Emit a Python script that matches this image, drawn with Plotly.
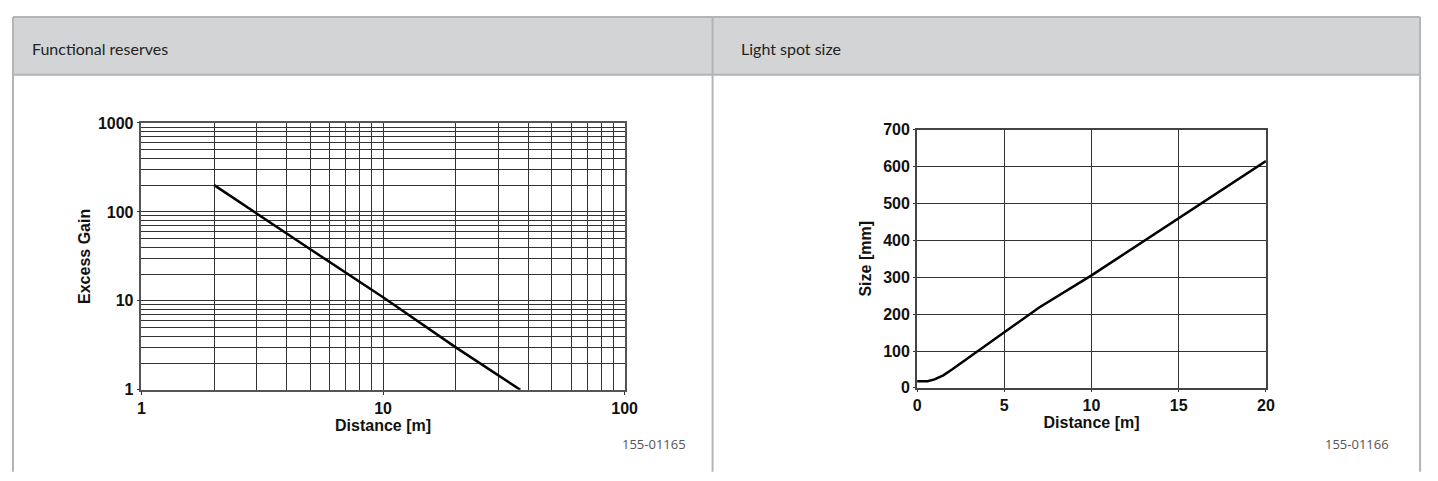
import plotly.graph_objects as go

# Functional reserves (log-log)
gain_dist = [2, 3, 5, 10, 20, 37]
gain_vals = [200, 95, 38, 11, 3, 1]

# Light spot size
spot_dist = [0, 0.6, 1, 1.5, 2, 2.5, 3, 5, 7, 10, 15, 20]
spot_size = [18, 18, 23, 34, 50, 67, 84, 150, 218, 305, 460, 615]

left_title = "Functional reserves"
right_title = "Light spot size"
left_code = "155-01165"
right_code = "155-01166"

# page body keeps an 8px margin, so the figure is sized to fit inside the window
OFF = 8
W, H = 1430, 465


def px(x):
    return (x - OFF) / W


def py(y):
    return 1 - (y - OFF) / H


grid_col = "#333333"
tick_font = dict(family="Liberation Sans, Arial", size=16, color="#111", weight="bold")
title_font = dict(family="Liberation Sans, Arial", size=16, color="#111", weight="bold")

fig = go.Figure()
fig.add_trace(go.Scatter(x=gain_dist, y=gain_vals, mode="lines",
                         line=dict(color="#000", width=2.5), xaxis="x", yaxis="y",
                         showlegend=False, hoverinfo="skip"))
fig.add_trace(go.Scatter(x=spot_dist, y=spot_size, mode="lines",
                         line=dict(color="#000", width=2.5), xaxis="x2", yaxis="y2",
                         showlegend=False, hoverinfo="skip"))

minor_x = [2, 3, 4, 5, 6, 7, 8, 9, 20, 30, 40, 50, 60, 70, 80, 90]
minor_y = minor_x + [200, 300, 400, 500, 600, 700, 800, 900]

fig.update_layout(
    width=W, height=H,
    margin=dict(l=0, r=0, t=0, b=0),
    paper_bgcolor="white", plot_bgcolor="white",
    xaxis=dict(domain=[px(139), px(628)], type="log", range=[0, 2], anchor="y",
               tickvals=[1, 10, 100], ticktext=["1", "10", "100"],
               ticks="outside", ticklen=3, tickcolor="#333",
               showgrid=True, gridcolor=grid_col, gridwidth=1,
               minor=dict(tickvals=minor_x, showgrid=True, gridcolor=grid_col, gridwidth=1, ticks=""),
               showline=True, linecolor="#555", linewidth=1.5, mirror=True,
               tickfont=tick_font, zeroline=False,
               title=dict(text="Distance [m]", font=title_font, standoff=3)),
    yaxis=dict(domain=[py(396), py(119)], type="log", range=[0, 3], anchor="x",
               tickvals=[1, 10, 100, 1000], ticktext=["1", "10", "100", "1000"],
               ticks="outside", ticklen=3, tickcolor="#333",
               showgrid=True, gridcolor=grid_col, gridwidth=1,
               minor=dict(tickvals=minor_y, showgrid=True, gridcolor=grid_col, gridwidth=1, ticks=""),
               showline=True, linecolor="#555", linewidth=1.5, mirror=True,
               tickfont=tick_font, zeroline=False,
               title=dict(text="Excess Gain", font=title_font, standoff=3)),
    xaxis2=dict(domain=[px(924), px(1277)], range=[0, 20], anchor="y2",
                tickvals=[0, 5, 10, 15, 20],
                ticks="outside", ticklen=2, tickcolor="#333",
                showgrid=True, gridcolor=grid_col, gridwidth=1,
                showline=True, linecolor="#444", linewidth=2, mirror=True,
                tickfont=tick_font, zeroline=False,
                title=dict(text="Distance [m]", font=title_font, standoff=3)),
    yaxis2=dict(domain=[py(394), py(126)], range=[0, 700], anchor="x2",
                tickvals=[0, 100, 200, 300, 400, 500, 600, 700],
                ticks="outside", ticklen=2, tickcolor="#333",
                showgrid=True, gridcolor=grid_col, gridwidth=1,
                showline=True, linecolor="#444", linewidth=2, mirror=True,
                tickfont=tick_font, zeroline=False,
                title=dict(text="Size [mm]", font=title_font, standoff=8)),
)

border = "#b4b4b4"
top, head_bot, bottom = 9, 69, 481
left_x, mid_x, right_x = 9, 717, 1433
shapes = [
    # header band
    dict(type="rect", xref="paper", yref="paper", x0=px(left_x), x1=px(right_x), y0=py(head_bot), y1=py(top),
         fillcolor="#d3d4d6", line=dict(width=0), layer="below"),
    dict(type="line", xref="paper", yref="paper", x0=px(left_x), x1=px(right_x), y0=py(top), y1=py(top),
         line=dict(color=border, width=2)),
    dict(type="line", xref="paper", yref="paper", x0=px(left_x), x1=px(right_x), y0=py(head_bot), y1=py(head_bot),
         line=dict(color=border, width=2)),
]
for vx in (left_x, mid_x, right_x):
    shapes.append(dict(type="line", xref="paper", yref="paper", x0=px(vx), x1=px(vx),
                       y0=py(top), y1=py(bottom), line=dict(color=border, width=2)))
fig.update_layout(shapes=shapes)

head_font = dict(family="Lato, Open Sans", size=16, color="#222")
code_font = dict(family="Open Sans, Noto Sans", size=13, color="#555")
fig.add_annotation(text=left_title, xref="paper", yref="paper", x=px(26), y=py(42),
                   xanchor="left", yanchor="middle", showarrow=False, font=head_font)
fig.add_annotation(text=right_title, xref="paper", yref="paper", x=px(744), y=py(42),
                   xanchor="left", yanchor="middle", showarrow=False, font=head_font)
fig.add_annotation(text=left_code, xref="paper", yref="paper", x=px(692), y=py(452),
                   xanchor="right", yanchor="middle", showarrow=False, font=code_font)
fig.add_annotation(text=right_code, xref="paper", yref="paper", x=px(1404), y=py(452),
                   xanchor="right", yanchor="middle", showarrow=False, font=code_font)

fig.write_html("out.html")
